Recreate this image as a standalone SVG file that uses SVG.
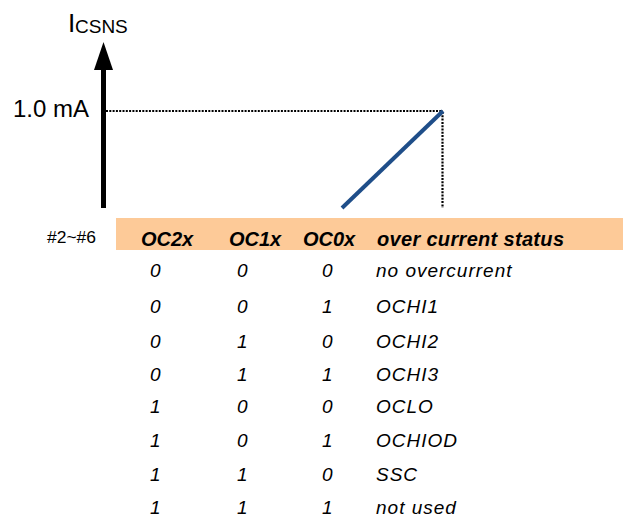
<svg xmlns="http://www.w3.org/2000/svg" width="623" height="520" viewBox="0 0 623 520">
<style>
.ax{font-family:"Liberation Sans",Arial,sans-serif;fill:#000}
.hd{font-family:"Liberation Sans",Arial,sans-serif;font-weight:bold;font-style:italic;font-size:20px;fill:#000}
.bd{font-family:"Liberation Sans",Arial,sans-serif;font-style:italic;font-size:19px;letter-spacing:1px;fill:#000}
.dash{stroke:#000;stroke-width:2.2;stroke-dasharray:2 1.3;fill:none}
</style>
<rect width="623" height="520" fill="#fff"/>
<g id="chart">
<text class="ax" x="68" y="32" font-size="26">I<tspan font-size="19" x="75" y="33">CSNS</tspan></text>
<text class="ax" x="13" y="117" font-size="24">1.0 mA</text>
</g>
<g id="connectors">
<line x1="103.5" y1="208" x2="103.5" y2="70" stroke="#000" stroke-width="5"/>
<polygon points="103.5,42 113,70 94,70" fill="#000"/>
<line class="dash" x1="106" y1="111" x2="443" y2="111"/>
<line class="dash" x1="442.5" y1="112" x2="442.5" y2="208"/>
<line x1="443" y1="111" x2="342" y2="208" stroke="#1F4E89" stroke-width="4"/>
</g>
<g id="table">
<rect x="116" y="218" width="507" height="32" fill="#FDCA98"/>
<text class="ax" x="47" y="243" font-size="16" textLength="49" lengthAdjust="spacingAndGlyphs">#2~#6</text>
<text class="hd" x="141" y="246">OC2x</text>
<text class="hd" x="229" y="246">OC1x</text>
<text class="hd" x="303" y="246">OC0x</text>
<text class="hd" x="377" y="246" textLength="187">over current status</text>
<g class="bd">
<text x="150" y="277">0</text><text x="237" y="277">0</text><text x="322" y="277">0</text><text x="376" y="277">no overcurrent</text>
<text x="150" y="313">0</text><text x="237" y="313">0</text><text x="322" y="313">1</text><text x="376" y="313">OCHI1</text>
<text x="150" y="348">0</text><text x="237" y="348">1</text><text x="322" y="348">0</text><text x="376" y="348">OCHI2</text>
<text x="150" y="381">0</text><text x="237" y="381">1</text><text x="322" y="381">1</text><text x="376" y="381">OCHI3</text>
<text x="150" y="413">1</text><text x="237" y="413">0</text><text x="322" y="413">0</text><text x="376" y="413">OCLO</text>
<text x="150" y="447">1</text><text x="237" y="447">0</text><text x="322" y="447">1</text><text x="376" y="447">OCHIOD</text>
<text x="150" y="481">1</text><text x="237" y="481">1</text><text x="322" y="481">0</text><text x="376" y="481">SSC</text>
<text x="150" y="514">1</text><text x="237" y="514">1</text><text x="322" y="514">1</text><text x="376" y="514">not used</text>
</g>
</g>
</svg>
